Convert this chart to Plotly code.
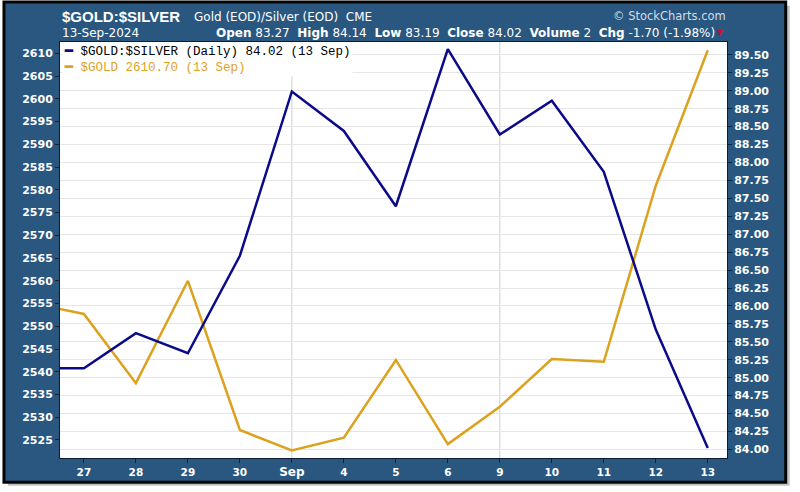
import plotly.graph_objects as go

# dates shown on the axis (26 Aug sits just off the left edge)
days = ["26", "27", "28", "29", "30", "Sep", "4", "5", "6", "9", "10", "11", "12", "13"]
tick_days = ["27", "28", "29", "30", "Sep", "4", "5", "6", "9", "10", "11", "12", "13"]
tick_text = ["27", "28", "29", "30", "<b style='font-size:12px'>Sep</b>", "4", "5", "6", "9", "10", "11", "12", "13"]
week_lines = ["Sep", "9"]

# $GOLD:$SILVER ratio (right axis)
ratio = [85.13, 85.13, 85.62, 85.34, 86.70, 88.99, 88.44, 87.39, 89.58, 88.39, 88.86, 87.87, 85.67, 84.02]
# $GOLD (left axis)
gold = [2555.1, 2552.7, 2537.5, 2560.0, 2527.2, 2522.7, 2525.5, 2542.6, 2524.1, 2532.3, 2542.8, 2542.2, 2580.9, 2610.7]

left_ticks = list(range(2525, 2611, 5))
right_ticks = [84 + 0.25 * i for i in range(23)]

frame_blue = "#29577f"
navy = "#0b0b8a"
goldc = "#dca21f"

fig = go.Figure()
fig.add_trace(go.Scatter(x=days, y=gold, mode="lines", line=dict(color=goldc, width=2.5),
                         yaxis="y", showlegend=False))
fig.add_trace(go.Scatter(x=days, y=ratio, mode="lines", line=dict(color=navy, width=2.5),
                         yaxis="y2", showlegend=False))

# outer frame with drop shadow, then white plotting area on top of it
fig.add_shape(type="rect", xref="paper", yref="paper", x0=-0.078, x1=1.094, y0=-0.067, y1=1.087,
              fillcolor="#9a9a9a", line=dict(width=0), layer="below", opacity=0.6)
fig.add_shape(type="rect", xref="paper", yref="paper", x0=-0.084, x1=1.088, y0=-0.058, y1=1.096,
              fillcolor=frame_blue, line=dict(color="#050505", width=3), layer="below")
fig.add_shape(type="rect", xref="paper", yref="paper", x0=0, x1=1, y0=0, y1=1,
              fillcolor="white", line=dict(width=0), layer="below")
for d in week_lines:
    fig.add_shape(type="line", xref="x", yref="paper", x0=d, x1=d, y0=0, y1=1,
                  line=dict(color="#cfcfcf", width=1), layer="below")

tick_font = dict(family="DejaVu Sans", size=11, color="white", weight="bold")

fig.update_layout(
    width=800, height=492,
    margin=dict(l=60, r=73, t=42, b=34),
    paper_bgcolor="white",
    plot_bgcolor="white",
    xaxis=dict(type="category", categoryorder="array", categoryarray=days,
               range=[0.54, 13.37], tickvals=tick_days, ticktext=tick_text,
               showgrid=False, ticks="outside", ticklen=4, tickcolor="#10233a",
               tickfont=dict(family="DejaVu Sans", size=10.5, color="white", weight="bold"),
               showline=True, linecolor="#0d1b33", linewidth=1, mirror=True, zeroline=False),
    yaxis=dict(range=[2521.04, 2612.5], tickvals=left_ticks, showgrid=False,
               ticks="outside", ticklen=4, tickcolor="#10233a", tickfont=tick_font,
               showline=True, linecolor="#0d1b33", linewidth=1, mirror=True, zeroline=False),
    yaxis2=dict(range=[83.88, 89.68], tickvals=right_ticks, tickformat=".2f",
                overlaying="y", side="right", showgrid=True, gridcolor="#e6e6e6", gridwidth=1,
                ticks="outside", ticklen=4, tickcolor="#10233a", tickfont=tick_font,
                zeroline=False),
)

hdr = "DejaVu Sans"
fig.add_annotation(xref="paper", yref="paper", x=0, y=1.062, xanchor="left", yanchor="middle",
                   text="<b>$GOLD:$SILVER</b>", showarrow=False,
                   font=dict(family="Liberation Sans, Arial", size=15, color="white"))
fig.add_annotation(xref="paper", yref="paper", x=0.198, y=1.06, xanchor="left", yanchor="middle",
                   text="Gold (EOD)/Silver (EOD)  CME", showarrow=False,
                   font=dict(family=hdr, size=12, color="white"))
fig.add_annotation(xref="paper", yref="paper", x=0, y=1.022, xanchor="left", yanchor="middle",
                   text="13-Sep-2024", showarrow=False,
                   font=dict(family=hdr, size=12, color="white"))
fig.add_annotation(xref="paper", yref="paper", x=0.985, y=1.022, xanchor="right", yanchor="middle",
                   text="<b>Open</b> 83.27  <b>High</b> 84.14  <b>Low</b> 83.19  <b>Close</b> 84.02  "
                        "<b>Volume</b> 2  <b>Chg</b> -1.70 (-1.98%)",
                   showarrow=False, font=dict(family=hdr, size=12, color="white"))
fig.add_annotation(xref="paper", yref="paper", x=0.998, y=1.022, xanchor="right", yanchor="middle",
                   text="▼", showarrow=False, font=dict(family="DejaVu Sans", size=8, color="#c8102e"))
fig.add_annotation(xref="paper", yref="paper", x=1.002, y=1.062, xanchor="right", yanchor="middle",
                   text="© StockCharts.com", showarrow=False,
                   font=dict(family=hdr, size=11.5, color="#d6dde6"))

# legend block, top-left inside plot
leg_font = dict(family="Liberation Mono, Courier New", size=12.5, color="black")
fig.add_annotation(xref="paper", yref="paper", x=0.003, y=0.998, xanchor="left", yanchor="top",
                   align="left", showarrow=False, bgcolor="white",
                   text=f"<span style='color:{navy}'><b>━</b></span> $GOLD:$SILVER (Daily) 84.02 (13 Sep)<br>"
                        f"<span style='color:{goldc}'><b>━</b> $GOLD 2610.70 (13 Sep)</span>",
                   font=leg_font)

fig.write_html("out.html", config={"displayModeBar": False},
               post_script="document.body.style.margin='0';")
